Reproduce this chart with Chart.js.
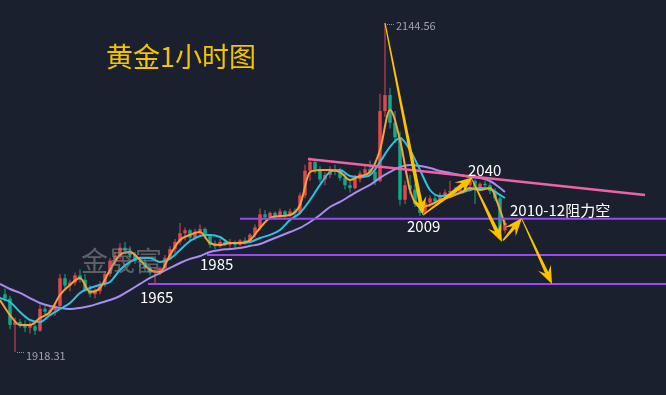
<!DOCTYPE html>
<html>
<head>
<meta charset="utf-8">
<script src="https://cdn.jsdelivr.net/npm/chart.js@4.4.1/dist/chart.umd.min.js"></script>
<style>
html,body{margin:0;padding:0;background:#1a202d;overflow:hidden;}
canvas{display:block;}
</style>
</head>
<body>
<canvas id="c" width="666" height="395"></canvas>
<script>
// ---- candle data (hourly gold) ----
const opens = [
1958,1955,1937,1939,1937,1935,1936,1933,1948,1946,
1947,1950,1969,1964,1966,1971,1968,1961,1958,1960,
1965,1972,1981,1984,1990,1988,1985,1981,1980,1976,
1973,1974,1976,1983,1989,1994,2000,2002,1997,2001,
2003,1998,1992,1991,1994,1992,1994,1992,1995,1994,
1999,2004,2013,2011,2014,2011,2015,2012,2015,2014,
2026,2043,2049,2044,2037,2040,2044,2043,2038,2033,
2031,2037,2041,2044,2042,2036,2084,2095,2076,2066,
2023,2033,2030,2020,2014,2021,2024,2022,2026,2028,
2029,2028,2031,2033,2036,2031,2034,2033,2029,2024,
2002];
const highs = [
1962,1957,1942,1941,1940,1939,1938,1951,1950,1949,
1951,1972,1972,1968,1973,1975,1972,1964,1962,1967,
1974,1983,1987,1993,1994,1991,1987,1984,1982,1978,
1976,1977,1985,1991,1996,2007,2004,2003,2003,2006,
2004,1999,1995,1996,1996,1996,1995,1996,1997,2000,
2006,2017,2016,2015,2015,2017,2016,2017,2017,2028,
2047,2052,2051,2046,2042,2046,2047,2045,2041,2036,
2040,2043,2046,2050,2044,2096,2144.56,2100,2084,2070,
2036,2040,2034,2022,2023,2026,2027,2028,2030,2036,
2032,2033,2036,2040,2037,2035,2036,2035,2031,2026,
2009];
const lows = [
1953,1934,1918.31,1935,1932,1931,1930,1932,1944,1943,
1943,1949,1962,1960,1964,1966,1960,1956,1955,1958,
1963,1970,1978,1982,1986,1983,1979,1977,1974,1971,
1965,1971,1975,1982,1986,1992,1995,1994,1995,1998,
1996,1990,1989,1990,1991,1990,1990,1991,1992,1993,
1997,2002,2009,2009,2009,2010,2010,2011,2012,2013,
2024,2036,2041,2035,2033,2038,2040,2036,2030,2028,
2030,2035,2039,2040,2033,2035,2080,2072,2062,2019,
2020,2027,2018,2011.8,2013,2018,2020,2021,2023,2026,
2026,2027,2029,2031,2020,2029,2031,2027,2022,2000,
2000];
const closes = [
1955,1937,1939,1937,1935,1937,1933,1948,1946,1947,
1950,1969,1964,1966,1971,1968,1961,1958,1960,1965,
1972,1981,1984,1990,1988,1985,1981,1980,1976,1973,
1974,1976,1983,1989,1994,2000,2002,1997,2001,2003,
1998,1992,1991,1994,1992,1994,1992,1995,1994,1999,
2004,2013,2011,2014,2011,2015,2012,2015,2014,2026,
2043,2049,2044,2037,2040,2044,2043,2038,2033,2031,
2037,2041,2044,2042,2036,2084,2095,2076,2066,2023,
2033,2030,2020,2014,2021,2024,2022,2026,2028,2029,
2028,2031,2033,2036,2031,2034,2033,2029,2024,2002,
2007];

// ---- moving averages (read at candle positions) ----
const maIdx = [
-1,1,3,5,7,9,11,13,15,17,
19,21,23,25,27,29,31,33,35,37,
39,41,43,45,47,49,51,53,55,57,
59,61,63,65,67,69,71,73,75,77,
79,81,83,85,87,89,91,93,95,97,
99,100];
const maFast = [
1954.0,1943.7,1936.8,1936.8,1941.7,1945.8,1957.5,1964.4,1969.2,1959.6,
1962.3,1974.7,1985.0,1987.1,1981.6,1974.7,1973.3,1985.0,1995.3,1998.8,
2000.8,1993.3,1991.9,1993.3,1993.3,1995.3,2003.6,2010.5,2011.8,2012.5,
2019.4,2042.1,2043.5,2043.5,2042.1,2036.6,2039.3,2042.1,2057.2,2084.7,
2064.1,2029.7,2018.0,2019.4,2022.8,2024.9,2027.7,2031.1,2029.7,2031.1,
2016.0,2005.6];
const maMid = [
1955.4,1952.7,1945.8,1940.3,1938.9,1943.7,1947.9,1952.0,1958.9,1962.3,
1964.4,1966.4,1974.7,1980.2,1982.9,1982.9,1980.2,1982.3,1988.4,1994.6,
1998.1,1998.8,1997.4,1993.3,1993.3,1993.9,1996.7,1998.8,2002.2,2009.1,
2013.9,2022.8,2033.2,2042.1,2043.5,2039.3,2038.7,2040.0,2049.0,2059.3,
2065.5,2057.2,2043.5,2029.7,2025.6,2026.3,2027.7,2029.7,2031.1,2030.4,
2026.3,2024.2];
const maSlow = [
1965.1,1961.6,1958.9,1955.4,1952.0,1949.9,1948.6,1947.9,1948.6,1949.9,
1952.0,1954.0,1956.8,1960.9,1965.1,1969.2,1972.6,1976.1,1979.5,1982.3,
1984.3,1987.1,1988.4,1989.1,1989.8,1991.2,1992.6,1995.3,1998.1,2000.8,
2003.6,2007.7,2012.5,2018.0,2021.5,2025.6,2029.7,2033.2,2038.0,2042.1,
2045.5,2046.9,2046.2,2044.8,2042.8,2041.4,2040.0,2038.6,2038.0,2035.9,
2031.1,2028.3];

// ---- support / resistance levels ----
const levelPrices = [2010, 1985, 1965];
const levelStarts = [47, 40.4, 28.6];
const trendFrom = [60.6, 2051.0];
const trendTo = [128, 2026.3];

// ---- arrows (candle index, price) ----
const arrowFrom = [[76, 2144.56],[83.6, 2012.5],[93.4, 2037],[99.6, 1995],[103.4, 2009.5]];
const arrowTo   = [[83.6, 2012.5],[93.6, 2038.5],[99.4, 1994],[103.4, 2010.5],[109.4, 1965]];

// ---- text labels ----
const labelTexts = ['2040','2009','1985','1965','2010-12阻力空'];
const labelIdx   = [92.6, 80.4, 39, 27, 101];
const labelPrice = [2043.5, 2005.0, 1978.5, 1956.1, 2016.0];
const extremeTexts = ['2144.56','1918.31'];
const extremeIdx = [76, 2];
const extremePrice = [2144.56, 1918.31];
const titleText = '黄金1小时图';
const watermarkText = '金晟富';

const RED = '#e2474e', GREEN = '#14a88a';
const idx = opens.map((_, i) => i);
const candleColors = idx.map(i => closes[i] >= opens[i] ? RED : GREEN);

const FONT = '"Noto Sans CJK SC","Noto Sans",sans-serif';

function drawArrow(ctx, x1, y1, x2, y2, w0, w1, hl, hw) {
  const dx = x2 - x1, dy = y2 - y1, L = Math.hypot(dx, dy);
  const ux = dx / L, uy = dy / L, nx = -uy, ny = ux;
  const bx = x2 - ux * hl, by = y2 - uy * hl;
  const sx = x2 - ux * hl * 0.7, sy = y2 - uy * hl * 0.7;
  ctx.beginPath();
  ctx.moveTo(x1 + nx * w0 / 2, y1 + ny * w0 / 2);
  ctx.lineTo(sx + nx * w1 / 2, sy + ny * w1 / 2);
  ctx.lineTo(bx + nx * hw / 2, by + ny * hw / 2);
  ctx.lineTo(x2, y2);
  ctx.lineTo(bx - nx * hw / 2, by - ny * hw / 2);
  ctx.lineTo(sx - nx * w1 / 2, sy - ny * w1 / 2);
  ctx.lineTo(x1 - nx * w0 / 2, y1 - ny * w0 / 2);
  ctx.closePath();
  ctx.fill();
}

const overlay = {
  id: 'overlay',
  beforeDraw(chart) {
    const ctx = chart.ctx;
    ctx.save();
    ctx.fillStyle = '#1a202d';
    ctx.fillRect(0, 0, chart.width, chart.height);
    ctx.restore();
  },
  afterDatasetsDraw(chart) {
    const ctx = chart.ctx, xs = chart.scales.x, ys = chart.scales.y;
    ctx.save();
    // watermark
    ctx.font = '27px ' + FONT;
    ctx.textBaseline = 'middle';
    ctx.textAlign = 'left';
    ctx.fillStyle = 'rgba(140,140,140,0.6)';
    ctx.fillText(watermarkText, 81, 261);
    // arrows
    ctx.fillStyle = '#fbc200';
    const widths = [[1.2, 4], [1, 4.5], [1, 4], [1.5, 3.5], [1, 3.5]];
    arrowFrom.forEach((f, k) => {
      const t = arrowTo[k];
      drawArrow(ctx, xs.getPixelForValue(f[0]), ys.getPixelForValue(f[1]),
        xs.getPixelForValue(t[0]), ys.getPixelForValue(t[1]),
        widths[k][0], widths[k][1], 18, 14);
    });
    // labels
    ctx.fillStyle = '#ffffff';
    ctx.font = '15px ' + FONT;
    labelTexts.forEach((t, k) => {
      ctx.fillText(t, xs.getPixelForValue(labelIdx[k]), ys.getPixelForValue(labelPrice[k]));
    });
    // extremes with dotted leaders
    ctx.font = '11px ' + FONT;
    extremeTexts.forEach((t, k) => {
      const px = xs.getPixelForValue(extremeIdx[k]) + 1;
      const py = Math.round(ys.getPixelForValue(extremePrice[k]));
      ctx.fillStyle = '#8d929b';
      for (let d = 1; d < 9; d += 2) ctx.fillRect(px + d, py + (k === 0 ? 1 : 0), 1, 1);
      ctx.fillStyle = '#9ea3ab';
      ctx.fillText(t, px + 10, py + (k === 0 ? 3 : 4));
    });
    // title
    ctx.font = '27px ' + FONT;
    ctx.fillStyle = '#f5c400';
    ctx.fillText(titleText, 106, 57);
    ctx.restore();
  }
};

const lineDs = (vals, color, order) => ({
  type: 'line',
  data: maIdx.map((x, k) => ({ x, y: vals[k] })),
  borderColor: color, borderWidth: 2, pointRadius: 0,
  cubicInterpolationMode: 'monotone', fill: false, order
});

const datasets = [
  {
    type: 'bar',
    data: idx.map(i => ({ x: i, y: [lows[i], highs[i]] })),
    backgroundColor: candleColors, borderWidth: 0,
    grouped: false, maxBarThickness: 1, order: 20
  },
  {
    type: 'bar',
    data: idx.map(i => ({ x: i, y: [opens[i], closes[i]] })),
    backgroundColor: candleColors, borderWidth: 0,
    grouped: false, maxBarThickness: 3.5, order: 19
  },
  lineDs(maSlow, '#a98cf2', 8),
  lineDs(maMid, '#2bc3e4', 7),
  lineDs(maFast, '#f6a13a', 6),
  ...levelPrices.map((p, k) => ({
    type: 'line',
    data: [{ x: levelStarts[k], y: p }, { x: 133, y: p }],
    borderColor: '#9a48f0', borderWidth: 2, pointRadius: 0, fill: false, order: 4
  })),
  {
    type: 'line',
    data: [{ x: trendFrom[0], y: trendFrom[1] }, { x: trendTo[0], y: trendTo[1] }],
    borderColor: '#f062a8', borderWidth: 2.5, pointRadius: 0, fill: false, order: 3
  }
];

new Chart(document.getElementById('c'), {
  type: 'bar',
  data: { datasets },
  options: {
    responsive: false,
    animation: false,
    devicePixelRatio: 1,
    layout: { padding: 0 },
    plugins: { legend: { display: false }, tooltip: { enabled: false } },
    scales: {
      x: { type: 'linear', min: -1, max: 132.2, display: false, offset: false },
      y: { type: 'linear', min: 1888.7, max: 2160.4, display: false, beginAtZero: false }
    }
  },
  plugins: [overlay]
});
</script>
</body>
</html>
